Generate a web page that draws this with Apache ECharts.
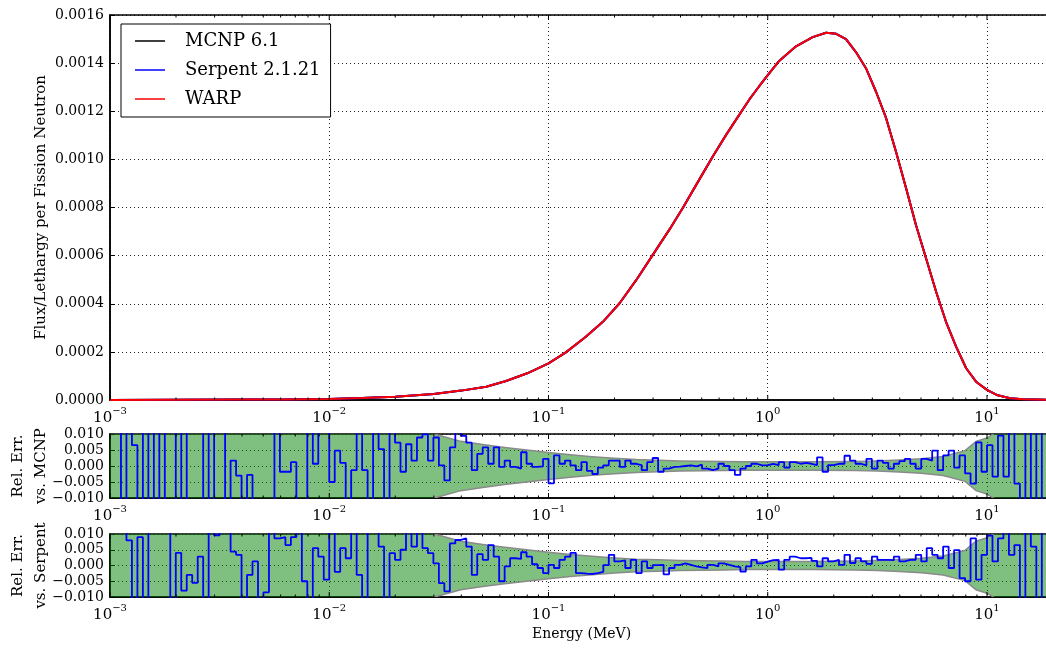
<!DOCTYPE html>
<html>
<head>
<meta charset="utf-8">
<script src="https://cdn.jsdelivr.net/npm/echarts@6/dist/echarts.min.js"></script>
<style>
html, body { margin: 0; padding: 0; background: #fff; }
#main { width: 1046px; height: 650px; }
</style>
</head>
<body>
<div id="main"></div>
<script>
var FONT = 'DejaVu Serif';
var eMin = 0.001, eMax = 20; // energy range (MeV)

// top panel: flux per lethargy at these energies (MeV)
var fluxE = [0.001, 0.002, 0.004, 0.0063, 0.01, 0.0141, 0.02, 0.03, 0.04, 0.052, 0.064, 0.08,
	0.1, 0.12, 0.148, 0.177, 0.211, 0.252, 0.30, 0.357, 0.411, 0.49, 0.564, 0.649, 0.741, 0.826, 0.916,
	1.0, 1.13, 1.346, 1.603, 1.845, 2.051, 2.275, 2.529, 2.805, 3.119, 3.467, 3.846, 4.276, 4.742,
	5.272, 5.861, 6.501, 7.228, 8.035, 8.913, 10.0, 11.07, 12.74, 14.62, 20];
// MCNP, Serpent and WARP lie on top of each other at this scale
var fluxPerLethargy = [4e-7, 8e-7, 1.6e-6, 2.5e-6, 4.5e-6, 8e-6, 1.4e-5, 2.5e-5, 3.9e-5, 5.5e-5, 7.9e-5, 1.11e-4,
	1.52e-4, 1.98e-4, 2.63e-4, 3.25e-4, 4.02e-4, 5.0e-4, 6.05e-4, 7.1e-4, 8.0e-4, 9.2e-4, 1.015e-3, 1.105e-3, 1.185e-3, 1.25e-3, 1.305e-3,
	1.35e-3, 1.41e-3, 1.47e-3, 1.508e-3, 1.526e-3, 1.522e-3, 1.5e-3, 1.445e-3, 1.379e-3, 1.281e-3, 1.171e-3, 1.032e-3, 8.8e-4, 7.27e-4,
	5.89e-4, 4.5e-4, 3.25e-4, 2.22e-4, 1.32e-4, 7.6e-5, 4.2e-5, 2.1e-5, 7e-6, 3e-6, 5e-7];

// relative error histograms: bins of 0.025 decade starting at 1e-3 MeV
var errLog0 = -3, errDlog = 0.025;
var errVsMcnp = [
	0.015, 0.015, -0.015, 0.015, 0.0065, -0.015, 0.015, -0.015, 0.015, -0.015,
	0.015, 0.015, -0.015, 0.015, -0.015, -0.015, -0.015, 0.015, -0.015, 0.015,
	0.015, -0.015, 0.0017, -0.003, -0.015, -0.0028, -0.015, -0.015, -0.015, -0.015,
	0.015, -0.0018, -0.0018, 0.0012, -0.015, -0.015, 0.015, 0.0007, 0.015, 0.015,
	-0.005, 0.0048, 0.001, -0.015, -0.0013, 0.015, -0.0013, -0.015, 0.015, 0.0053,
	-0.015, 0.015, 0.0073, -0.0018, 0.0068, 0.0017, 0.0089, 0.0099, 0.0017, 0.0089,
	0.0002, -0.0045, 0.0058, 0.015, 0.0094, 0.0073, -0.0013, 0.0038, 0.0058, 0.0007,
	0.0058, -0.0003, 0.0017, -0.0003, -0.0008, 0.0043, 0.0007, -0.0003, -0.0001, 0.0022,
	-0.0054, 0.0033, 0.0007, 0.0017, 0.0002, -0.0013, 0.0012, -0.0015, -0.0025, -0.0005,
	0.0002, 0.0017, 0.0017, -0.0003, 0.0017, 0.0007, 0.0003, -0.0013, 0.0012, 0.0025,
	-0.0018, -0.0008, -0.0003, -0.0002, 0.0, 0.0002, -0.0001, 0.0004, -0.0008, -0.0013,
	-0.0008, 0.0007, 0.0, -0.0013, -0.0028, -0.0008, 0.0, 0.0007, 0.0002, 0.0003,
	0.0007, 0.0003, 0.0012, -0.0005, 0.0012, 0.0007, 0.0010, 0.0007, 0.0003, 0.0027,
	-0.0018, 0.0003, 0.0007, 0.0007, 0.0032, 0.0017, 0.0007, 0.0002, 0.0022, -0.0008,
	0.0017, 0.0010, -0.0008, 0.0007, 0.0015, 0.0022, 0.0007, -0.0008, 0.0022, 0.0017,
	0.0048, -0.0013, 0.0033, 0.0048, -0.0005, 0.0033, -0.0023, -0.0055, 0.0074, -0.0018,
	0.0065, -0.0033, 0.0095, -0.0033, 0.015, -0.0055, -0.015, 0.015, -0.015, 0.015,
	-0.015, -0.005];
var errVsSerpent = [
	0.015, 0.015, 0.015, 0.008, -0.015, 0.009, -0.015, 0.015, 0.015, 0.015,
	0.015, -0.015, 0.004, -0.008, -0.003, -0.0055, 0.0028, -0.015, 0.015, 0.0096,
	0.015, 0.015, 0.0044, 0.0034, -0.015, -0.003, 0.0013, -0.015, -0.0085, 0.015,
	0.0086, 0.009, 0.0065, 0.009, 0.015, -0.005, -0.015, 0.0055, 0.0028, -0.0045,
	0.015, -0.002, 0.0055, 0.0023, 0.015, -0.003, -0.015, 0.015, 0.015, 0.006,
	-0.015, 0.0039, 0.0018, 0.005, 0.015, 0.006, 0.015, 0.0055, 0.0039, 0.0007,
	-0.0056, -0.0082, 0.007, 0.0081, 0.0086, 0.006, -0.003, 0.0036, 0.0018, 0.0065,
	0.0028, -0.005, -0.0003, 0.0023, 0.0021, 0.0042, 0.0028, 0.0004, -0.0008, -0.0024,
	0.0002, -0.0008, 0.0018, 0.0028, 0.004, -0.0024, -0.0026, -0.0027, -0.0024, -0.0020,
	0.0001, 0.0034, 0.0013, 0.0016, -0.0008, 0.0018, -0.0024, 0.0013, -0.0008, 0.0001,
	0.0002, -0.0028, -0.0008, 0.0002, 0.0007, 0.0002, -0.0003, -0.0006, -0.0008, 0.0002,
	-0.0003, 0.0007, 0.0002, -0.0003, -0.0005, -0.0019, -0.0003, 0.0018, 0.0007, 0.0012,
	0.0017, 0.0018, -0.0013, 0.0018, 0.0028, 0.0023, 0.0023, 0.0024, 0.0015, -0.0003,
	0.0023, 0.0013, 0.0018, 0.0002, 0.0034, 0.0008, 0.0023, 0.0013, 0.0005, 0.0028,
	0.0018, 0.0018, 0.0017, 0.0028, 0.0013, 0.0018, 0.0018, 0.0034, 0.0013, 0.0055,
	0.0034, 0.0023, 0.006, -0.0008, 0.0049, -0.004, -0.005, 0.0086, -0.0045, 0.0034,
	0.0095, 0.0013, 0.0086, 0.015, 0.0034, 0.0065, -0.015, 0.015, 0.006, -0.015,
	0.015, -0.0045];

// statistical band (half width) around zero
var bandE = [0.001, 0.01, 0.025, 0.0302, 0.0398, 0.0501, 0.0631, 0.0794, 0.1, 0.126, 0.158, 0.2,
	0.251, 0.316, 0.398, 0.501, 0.631, 0.794, 1.0, 1.585, 2.512, 3.162, 3.981, 5.012, 6.31, 7.943,
	8.913, 10.0, 10.7, 12, 20];
var bandHalf = [0.02, 0.02, 0.012, 0.0100, 0.0077, 0.0067, 0.0058, 0.0050, 0.0042, 0.0035, 0.0029, 0.0024,
	0.0020, 0.0018, 0.0016, 0.0015, 0.0014, 0.0013, 0.0013, 0.0013, 0.0014, 0.0016, 0.0019, 0.0023, 0.0030, 0.0048,
	0.0077, 0.0088, 0.0100, 0.013, 0.02];

var decades = [0.001, 0.01, 0.1, 1, 10];
var minorMantissa = [2, 3, 4, 5, 6, 7, 8, 9];

var myChart = echarts.init(document.getElementById('main'), null, {renderer: 'canvas'});

function stepData(vals) {
	var d = [];
	for (var i = 0; i < vals.length; i++) {
		d.push([Math.pow(10, errLog0 + i * errDlog), vals[i]]);
	}
	d.push([Math.pow(10, errLog0 + vals.length * errDlog), vals[vals.length - 1]]);
	return d;
}

// tick marks (major + minor) drawn inward on the bottom and top spines
var tickData = [];
decades.forEach(function(d) {
	tickData.push([d, 5]);
	minorMantissa.forEach(function(m) {
		if (d * m <= eMax) tickData.push([d * m, 2.5]);
	});
});

function decadeLabel(v) {
	var p = Math.log10(v), n = Math.round(p);
	if (Math.abs(p - n) > 1e-6) return '';
	return '{b|10}{s|' + (n < 0 ? '\u2212' + (-n) : n) + '}';
}

var gridLine = {lineStyle: {color: '#000', type: [1, 3], width: 1, opacity: 0.85}};

function xAxisFor(gi, name) {
	return {
		type: 'log', logBase: 10, gridIndex: gi, min: eMin, max: eMax,
		axisLine: {show: true, onZero: false, lineStyle: {color: '#000', width: 1.5}},
		axisTick: {show: false},
		axisLabel: {
			formatter: decadeLabel, margin: 6, color: '#000',
			rich: {
				b: {fontFamily: FONT, fontSize: 15, color: '#000', verticalAlign: 'bottom', lineHeight: 20},
				s: {fontFamily: FONT, fontSize: 10, color: '#000', verticalAlign: 'top', lineHeight: 20}
			}
		},
		splitLine: Object.assign({show: true}, gridLine),
		name: name || '',
		nameLocation: 'middle', nameGap: 30, nameMoveOverlap: false,
		nameTextStyle: {fontFamily: FONT, fontSize: 14, color: '#000'}
	};
}

function yAxisFor(gi, min, max, interval, digits, name, nameGap) {
	return {
		type: 'value', gridIndex: gi, min: min, max: max, interval: interval,
		axisLine: {show: true, onZero: false, lineStyle: {color: '#000', width: 1.5}},
		axisTick: {show: true, inside: true, length: 5, lineStyle: {color: '#000', width: 1}},
		axisLabel: {
			fontFamily: FONT, fontSize: 14, color: '#000', margin: 6,
			formatter: function(v) {
				return (v < 0 ? '\u2212' : '') + Math.abs(v).toFixed(digits);
			}
		},
		splitLine: Object.assign({show: true}, gridLine),
		name: name, nameLocation: 'middle', nameRotate: 90, nameGap: nameGap, nameMoveOverlap: false,
		nameTextStyle: {fontFamily: FONT, fontSize: 15, color: '#000', lineHeight: 23}
	};
}

function tickSeries(gi, yLo, yHi) {
	return {
		type: 'custom', xAxisIndex: gi, yAxisIndex: gi, silent: true, z: 6,
		data: tickData,
		renderItem: function(params, api) {
			var e = api.value(0), len = api.value(1);
			var b = api.coord([e, yLo]), t = api.coord([e, yHi]);
			return {type: 'group', children: [
				{type: 'line', shape: {x1: b[0], y1: b[1], x2: b[0], y2: b[1] - len}, style: {stroke: '#000', lineWidth: 1}},
				{type: 'line', shape: {x1: t[0], y1: t[1], x2: t[0], y2: t[1] + len}, style: {stroke: '#000', lineWidth: 1}}
			]};
		}
	};
}

// green band with grey edges, one polygon through the axis scales
function bandSeries(gi) {
	return {
		type: 'custom', xAxisIndex: gi, yAxisIndex: gi, silent: true, clip: true, z: 2,
		data: [[bandE[0], 0]],
		renderItem: function(params, api) {
			var up = [], lo = [];
			for (var i = 0; i < bandE.length; i++) {
				up.push(api.coord([bandE[i], bandHalf[i]]));
				lo.push(api.coord([bandE[i], -bandHalf[i]]));
			}
			return {type: 'group', children: [
				{type: 'polygon', shape: {points: up.concat(lo.slice().reverse())}, style: {fill: 'rgba(0,128,0,0.5)'}},
				{type: 'polyline', shape: {points: up}, style: {stroke: '#8a8a8a', lineWidth: 1.5, fill: null}},
				{type: 'polyline', shape: {points: lo}, style: {stroke: '#8a8a8a', lineWidth: 1.5, fill: null}}
			]};
		}
	};
}

function fluxSeries(name, color, z) {
	var d = fluxE.map(function(e, i) { return [e, fluxPerLethargy[i]]; });
	return {
		name: name, type: 'line', xAxisIndex: 0, yAxisIndex: 0, symbol: 'none',
		smooth: false, data: d, z: z,
		lineStyle: {color: color, width: 2}, itemStyle: {color: color}
	};
}

function errSeries(gi, vals) {
	return {
		type: 'line', xAxisIndex: gi, yAxisIndex: gi, symbol: 'none', step: 'end',
		data: stepData(vals), z: 3, silent: true,
		lineStyle: {color: '#0000ff', width: 1.8}
	};
}

function gridAt(top, height) {
	return {left: 110, width: 943, top: top, height: height, outerBoundsMode: 'none', containLabel: false,
		show: true, borderColor: '#000', borderWidth: 1.5, backgroundColor: 'transparent'};
}

var option = {
	animation: false,
	backgroundColor: '#fff',
	grid: [gridAt(15, 385), gridAt(434, 64), gridAt(534, 63)],
	legend: {
		data: ['MCNP 6.1', 'Serpent 2.1.21', 'WARP'],
		orient: 'vertical', left: 121, top: 24,
		icon: 'rect', itemWidth: 30, itemHeight: 1.5, itemGap: 9,
		padding: [7, 10, 8, 14],
		borderColor: '#000', borderWidth: 1, backgroundColor: '#fff',
		selectedMode: false, z: 10,
		textStyle: {fontFamily: FONT, fontSize: 18, color: '#000', lineHeight: 20, padding: [0, 0, 0, 15]}
	},
	xAxis: [xAxisFor(0), xAxisFor(1), xAxisFor(2, 'Energy (MeV)')],
	yAxis: [
		yAxisFor(0, 0, 0.0016, 0.0002, 4, 'Flux/Lethargy per Fission Neutron', 57),
		yAxisFor(1, -0.01, 0.01, 0.005, 3, 'Rel. Err.\nvs. MCNP', 57),
		yAxisFor(2, -0.01, 0.01, 0.005, 3, 'Rel. Err.\nvs. Serpent', 57)
	],
	series: [
		fluxSeries('MCNP 6.1', '#000000', 3),
		fluxSeries('Serpent 2.1.21', '#0000ff', 4),
		fluxSeries('WARP', '#ff0000', 5),
		tickSeries(0, 0, 0.0016),
		bandSeries(1), errSeries(1, errVsMcnp), tickSeries(1, -0.01, 0.01),
		bandSeries(2), errSeries(2, errVsSerpent), tickSeries(2, -0.01, 0.01)
	]
};

myChart.setOption(option);
</script>
</body>
</html>
